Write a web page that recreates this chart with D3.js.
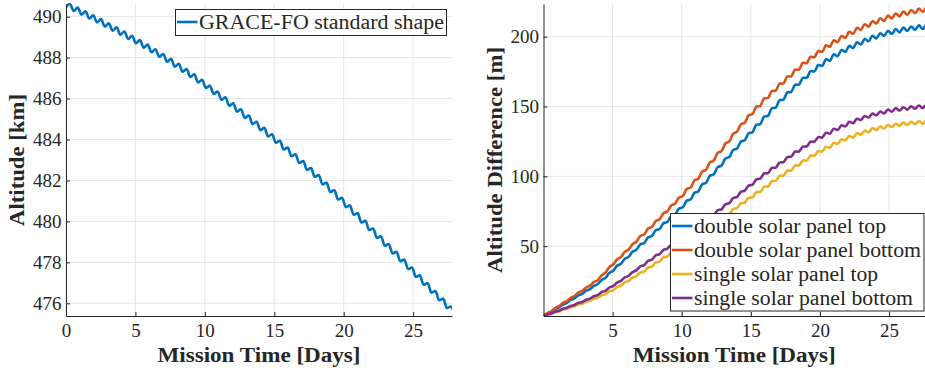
<!DOCTYPE html>
<html><head><meta charset="utf-8">
<script src="https://cdn.jsdelivr.net/npm/d3@7"></script>
<style>
body{margin:0;background:#fff;}
svg{display:block;}
svg text{font-family:"Liberation Serif","Times New Roman","DejaVu Serif",serif;}
</style>
</head><body><svg id="c" width="925" height="374"></svg>
<script>
// ---------- DATA ----------
const days = [0,0.28,0.56,0.84,1.12,1.4,1.68,1.96,2.24,2.52,2.8,3.08,3.36,3.64,3.92,4.2,4.48,4.76,5.04,5.32,5.6,5.88,6.16,6.44,6.72,7,7.28,7.56,7.84,8.12,8.4,8.68,8.96,9.24,9.52,9.8,10.08,10.36,10.64,10.92,11.2,11.48,11.76,12.04,12.32,12.6,12.88,13.16,13.44,13.72,14,14.28,14.56,14.84,15.12,15.4,15.68,15.96,16.24,16.52,16.8,17.08,17.36,17.64,17.92,18.2,18.48,18.76,19.04,19.32,19.6,19.88,20.16,20.44,20.72,21,21.28,21.56,21.84,22.12,22.4,22.68,22.96,23.24,23.52,23.8,24.08,24.36,24.64,24.92,25.2,25.48,25.76,26.04,26.32,26.6,26.88,27.16,27.44,27.72,28];

// Altitude [km], GRACE-FO standard shape
const graceAltitude = [490.48,490.62,490.28,490.45,490.10,490.26,489.91,490.07,489.72,489.88,
489.52,489.68,489.32,489.48,489.12,489.28,488.91,489.07,488.70,488.86,
488.49,488.64,488.26,488.41,488.04,488.18,487.80,487.94,487.56,487.70,
487.31,487.44,487.06,487.19,486.79,486.92,486.52,486.63,486.23,486.34,
485.94,486.06,485.65,485.77,485.36,485.47,485.06,485.17,484.76,484.87,
484.46,484.57,484.15,484.26,483.84,483.94,483.52,483.61,483.19,483.28,
482.86,482.95,482.52,482.61,482.18,482.26,481.81,481.89,481.44,481.52,
481.07,481.15,480.70,480.78,480.33,480.40,479.95,480.03,479.58,479.65,
479.20,479.27,478.82,478.89,478.44,478.51,478.06,478.13,477.68,477.74,
477.29,477.36,476.91,476.98,476.53,476.60,476.15,476.22,475.77,475.84,
475.39];

// Altitude difference [m]
const doubleTop = [0,1.8,3.0,5.0,6.2,8.2,9.4,11.5,12.6,14.8,
15.8,18.1,19.2,21.6,22.7,25.8,27.3,30.8,32.4,35.9,
37.4,40.9,42.4,46.0,47.5,51.3,52.2,56.3,57.3,61.4,
62.3,66.4,67.3,71.6,72.6,76.9,77.8,82.6,83.4,88.2,
89.2,94.3,95.4,100.4,101.5,106.6,107.7,112.8,113.8,118.9,
120.0,124.9,125.9,130.8,131.6,136.9,137.4,142.8,143.3,148.7,
149.2,154.5,154.9,160.1,160.5,165.5,165.6,170.5,170.6,175.3,
175.1,179.7,179.1,183.8,182.8,187.4,186.1,190.5,189.2,193.4,
191.9,196.0,194.4,198.4,196.7,200.6,198.8,202.5,200.5,204.2,
202.0,205.4,203.1,206.5,204.1,207.3,204.9,208.1,205.5,208.6,
206.1];
const doubleBottom = [0,2.0,3.4,5.7,7.1,9.3,10.7,12.9,14.3,16.7,
17.9,20.4,21.7,24.3,25.6,29.1,31.0,35.0,36.9,40.5,
42.2,45.9,47.6,51.4,53.2,57.3,58.4,62.6,63.7,68.0,
69.2,73.6,74.8,79.2,80.4,84.8,85.9,91.0,92.0,97.1,
98.3,103.5,104.7,110.0,111.3,116.7,118.1,123.5,125.0,130.5,
132.0,137.2,138.4,143.7,144.6,149.9,150.4,155.8,156.1,161.1,
161.4,166.4,166.5,171.5,171.6,176.4,176.4,181.2,181.1,185.6,
185.3,189.8,189.1,193.8,192.8,197.4,196.1,200.5,199.2,203.5,
202.1,206.3,204.9,208.9,207.2,211.1,209.4,213.2,211.3,215.1,
213.1,216.6,214.5,218.0,215.7,219.1,216.9,220.1,217.8,221.0,
218.6];
const singleTop = [0,1.0,1.5,2.7,3.2,4.5,5.1,6.3,6.9,8.3,
8.8,10.2,10.9,12.3,13.0,14.9,15.5,17.7,18.4,20.8,
21.8,24.1,25.1,27.5,28.5,31.1,31.8,34.7,35.4,38.3,
39.1,42.0,42.7,45.6,46.3,49.3,49.8,53.0,53.5,56.7,
57.1,60.3,60.7,64.0,64.7,68.2,68.9,72.4,73.1,76.6,
77.3,80.7,81.2,84.6,85.0,88.7,88.9,92.6,92.8,96.5,
96.8,100.4,100.5,104.0,104.1,107.7,107.8,111.3,111.4,114.8,
114.8,118.1,117.8,121.2,120.6,124.0,123.3,126.5,125.8,128.9,
127.9,130.9,129.9,132.7,131.6,134.4,133.2,135.7,134.3,136.8,
135.3,137.7,136.1,138.5,136.8,139.1,137.4,139.6,137.7,139.9,
138.0];
const singleBottom = [0,1.1,1.8,3.1,3.8,5.1,5.9,7.2,7.9,9.4,
10.0,11.6,12.4,14.1,14.9,17.1,18.0,20.4,21.4,23.9,
25.1,27.6,28.8,31.4,32.7,35.6,36.4,39.5,40.3,43.4,
44.3,47.3,48.2,51.2,52.1,55.2,55.9,59.2,59.8,63.1,
63.8,67.3,68.0,71.5,72.2,75.7,76.4,80.0,80.8,84.5,
85.3,88.9,89.8,93.4,94.0,97.9,98.3,102.1,102.3,106.0,
106.3,109.9,110.2,113.8,114.1,117.7,117.8,121.3,121.4,124.8,
124.8,128.1,127.8,131.2,130.6,134.0,133.3,136.5,135.8,139.0,
138.1,141.2,140.3,143.2,142.1,144.9,143.7,146.4,145.1,147.8,
146.3,148.7,147.1,149.5,147.8,150.1,148.4,150.7,148.9,151.2,
149.5];

const leftXTicks = [0,5,10,15,20,25];
const leftYTicks = [476,478,480,482,484,486,488,490];
const rightXTicks = [5,10,15,20,25];
const rightYTicks = [50,100,150,200];
const leftSeriesNames = ["GRACE-FO standard shape"];
const rightSeriesNames = ["double solar panel top","double solar panel bottom","single solar panel top","single solar panel bottom"];
const xLabel = "Mission Time [Days]";
const leftYLabel = "Altitude [km]";
const rightYLabel = "Altitude Difference [m]";

// ---------- STYLE ----------
const colors = ["#0072BD","#D95319","#EDB120","#7E2F8E"];
const ink = "#262626", gridC = "#e6e6e6";
const FONT = '"Liberation Serif","Times New Roman","DejaVu Serif",serif';
const svg = d3.select("#c");

function drawPanel(o){
  const x = d3.scaleLinear().domain(o.xDomain).range([o.left,o.right]);
  const y = d3.scaleLinear().domain(o.yDomain).range([o.bottom,o.top]);
  const g = svg.append("g");
  g.append("g").selectAll("line").data(o.xTicks).join("line")
    .attr("x1",d=>x(d)).attr("x2",d=>x(d)).attr("y1",o.top).attr("y2",o.bottom)
    .attr("stroke",gridC).attr("stroke-width",1);
  g.append("g").selectAll("line").data(o.yTicks).join("line")
    .attr("y1",d=>y(d)).attr("y2",d=>y(d)).attr("x1",o.left).attr("x2",o.right)
    .attr("stroke",gridC).attr("stroke-width",1);
  const cid = "clip"+o.id;
  svg.append("clipPath").attr("id",cid).append("rect")
    .attr("x",o.left).attr("y",o.top-1).attr("width",o.right-o.left).attr("height",o.bottom-o.top+1);
  const line = d3.line().x((d,i)=>x(days[i])).y(d=>y(d)).curve(d3.curveCatmullRom.alpha(0.5));
  g.append("g").attr("clip-path",`url(#${cid})`).selectAll("path").data(o.series).join("path")
    .attr("d",s=>line(s.values)).attr("fill","none").attr("stroke",s=>s.color)
    .attr("stroke-width",2.6).attr("stroke-linejoin","round");
  const ax = g.append("g").attr("transform",`translate(0,${o.bottom})`)
    .call(d3.axisBottom(x).tickValues(o.xTicks).tickSizeInner(-4).tickSizeOuter(0).tickPadding(8).tickFormat(d3.format("d")));
  const ay = g.append("g").attr("transform",`translate(${o.left},0)`)
    .call(d3.axisLeft(y).tickValues(o.yTicks).tickSizeInner(-4).tickSizeOuter(0).tickPadding(4.5).tickFormat(d3.format("d")));
  [ax,ay].forEach(a=>{
    a.attr("font-family",null).attr("font-size",null);
    a.select(".domain").attr("stroke",ink).attr("stroke-width",1);
    a.selectAll(".tick line").attr("stroke",ink);
    a.selectAll(".tick text").attr("fill",ink).style("font-family",FONT).style("font-size","19px");
  });
  // axis labels
  g.append("text").attr("x",(o.left+o.right)/2).attr("y",362).attr("text-anchor","middle")
    .style("font-family",FONT).style("font-weight","bold").style("font-size","20px").attr("fill",ink)
    .attr("textLength",203).attr("lengthAdjust","spacingAndGlyphs").text(xLabel);
  g.append("text").attr("transform",`translate(${o.yLabelX},${(o.top+o.bottom)/2}) rotate(-90)`)
    .attr("text-anchor","middle").style("font-family",FONT).style("font-weight","bold").style("font-size","20px")
    .attr("fill",ink).attr("textLength",o.yLabelLen).attr("lengthAdjust","spacingAndGlyphs").text(o.yLabel);
  // legend
  const L = o.legend;
  const lg = g.append("g");
  lg.append("rect").attr("x",L.x).attr("y",L.y).attr("width",L.w).attr("height",L.h)
    .attr("fill","#fff").attr("stroke",ink).attr("stroke-width",1);
  o.series.forEach((s,i)=>{
    const cy = L.y + L.first + i*L.step;
    lg.append("line").attr("x1",L.x+1.5).attr("x2",L.x+22).attr("y1",cy).attr("y2",cy)
      .attr("stroke",s.color).attr("stroke-width",2.6);
    lg.append("text").attr("x",L.x+23.5).attr("y",cy+6.5).style("font-family",FONT).style("font-size","20px")
      .attr("fill",ink).attr("textLength",L.lens[i]).attr("lengthAdjust","spacingAndGlyphs").text(s.name);
  });
}

drawPanel({
  id:"L", left:66, right:452, top:4, bottom:316,
  xDomain:[0,27.8], yDomain:[475.38,490.62],
  xTicks:leftXTicks, yTicks:leftYTicks,
  series:[{name:leftSeriesNames[0], values:graceAltitude, color:colors[0]}],
  yLabel:leftYLabel, yLabelX:24, yLabelLen:132,
  legend:{x:175.5,y:9.5,w:271,h:26,first:12.5,step:24,lens:[245]}
});

drawPanel({
  id:"R", left:543.5, right:925, top:4, bottom:316,
  xDomain:[0,27.6], yDomain:[0,223.4],
  xTicks:rightXTicks, yTicks:rightYTicks,
  series:[
    {name:rightSeriesNames[0], values:doubleTop, color:colors[0]},
    {name:rightSeriesNames[1], values:doubleBottom, color:colors[1]},
    {name:rightSeriesNames[2], values:singleTop, color:colors[2]},
    {name:rightSeriesNames[3], values:singleBottom, color:colors[3]}
  ],
  yLabel:rightYLabel, yLabelX:502, yLabelLen:226,
  legend:{x:670.5,y:213.5,w:253.5,h:97.5,first:12.5,step:24,lens:[192,227,184,219]}
});
</script>
</body></html>
